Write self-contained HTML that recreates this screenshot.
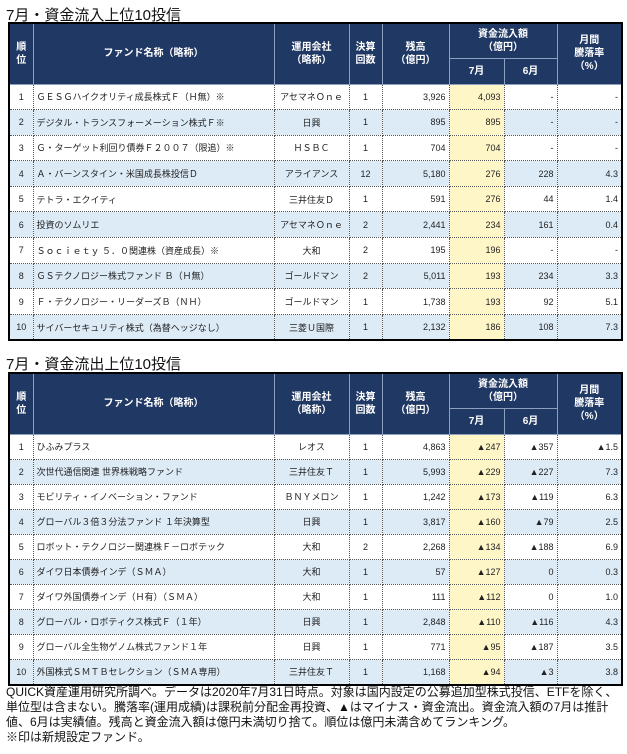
<!DOCTYPE html>
<html><head><meta charset="utf-8">
<style>
body{margin:0;background:#fff;width:627px;height:754px;overflow:hidden;font-family:"Liberation Sans","Noto Sans CJK JP",sans-serif;}
.t{position:absolute;left:6px;font-size:15px;color:#111;}
table{position:absolute;left:8px;border-collapse:collapse;table-layout:fixed;width:613px;border:2px solid #000;font-size:9px;color:#222;}
th{background:#203864;color:#fff;font-weight:bold;font-size:10px;border:1px solid #8ea0c0;text-align:center;line-height:13px;padding:0;}
td{border:1px dotted #555;padding:0 3px;white-space:nowrap;overflow:hidden;height:24px;}
table.a td{height:24.6px;}
tr.b td{background:#ddebf7;}
td.c{text-align:center}
td.r{text-align:right}
td.y{background:#fff6c8 !important;text-align:right}
td.n{text-align:left;padding-left:3px}
.f{position:absolute;left:6px;top:685px;font-size:12px;line-height:15px;color:#111;width:620px;}
</style></head><body>
<div class="t" style="top:4px">7月・資金流入上位10投信</div>
<table class="a" style="top:22px">
<colgroup><col style="width:24px"><col style="width:241px"><col style="width:75px"><col style="width:33px"><col style="width:67px"><col style="width:55px"><col style="width:53px"><col style="width:65px"></colgroup>
<tr style="height:35px"><th rowspan="2">順<br>位</th><th rowspan="2">ファンド名称（略称）</th><th rowspan="2">運用会社<br>（略称）</th><th rowspan="2">決算<br>回数</th><th rowspan="2">残高<br>（億円）</th><th colspan="2">資金流入額<br>（億円）</th><th rowspan="2">月間<br>騰落率<br>（%）</th></tr>
<tr style="height:26px"><th>7月</th><th>6月</th></tr>
<tr><td class="c">1</td><td class="n">ＧＥＳＧハイクオリティ成長株式Ｆ（Ｈ無）※</td><td class="c">アセマネＯｎｅ</td><td class="c">1</td><td class="r">3,926</td><td class="y">4,093</td><td class="r">-</td><td class="r">-</td></tr>
<tr class="b"><td class="c">2</td><td class="n">デジタル・トランスフォーメーション株式Ｆ※</td><td class="c">日興</td><td class="c">1</td><td class="r">895</td><td class="y">895</td><td class="r">-</td><td class="r">-</td></tr>
<tr><td class="c">3</td><td class="n">Ｇ・ターゲット利回り債券Ｆ２００７（限追）※</td><td class="c">ＨＳＢＣ</td><td class="c">1</td><td class="r">704</td><td class="y">704</td><td class="r">-</td><td class="r">-</td></tr>
<tr class="b"><td class="c">4</td><td class="n">Ａ・バーンスタイン・米国成長株投信Ｄ</td><td class="c">アライアンス</td><td class="c">12</td><td class="r">5,180</td><td class="y">276</td><td class="r">228</td><td class="r">4.3</td></tr>
<tr><td class="c">5</td><td class="n">テトラ・エクイティ</td><td class="c">三井住友Ｄ</td><td class="c">1</td><td class="r">591</td><td class="y">276</td><td class="r">44</td><td class="r">1.4</td></tr>
<tr class="b"><td class="c">6</td><td class="n">投資のソムリエ</td><td class="c">アセマネＯｎｅ</td><td class="c">2</td><td class="r">2,441</td><td class="y">234</td><td class="r">161</td><td class="r">0.4</td></tr>
<tr><td class="c">7</td><td class="n">Ｓｏｃｉｅｔｙ ５．０関連株（資産成長）※</td><td class="c">大和</td><td class="c">2</td><td class="r">195</td><td class="y">196</td><td class="r">-</td><td class="r">-</td></tr>
<tr class="b"><td class="c">8</td><td class="n">ＧＳテクノロジー株式ファンド Ｂ（Ｈ無）</td><td class="c">ゴールドマン</td><td class="c">2</td><td class="r">5,011</td><td class="y">193</td><td class="r">234</td><td class="r">3.3</td></tr>
<tr><td class="c">9</td><td class="n">Ｆ・テクノロジー・リーダーズＢ（ＮＨ）</td><td class="c">ゴールドマン</td><td class="c">1</td><td class="r">1,738</td><td class="y">193</td><td class="r">92</td><td class="r">5.1</td></tr>
<tr class="b"><td class="c">10</td><td class="n">サイバーセキュリティ株式（為替ヘッジなし）</td><td class="c">三菱Ｕ国際</td><td class="c">1</td><td class="r">2,132</td><td class="y">186</td><td class="r">108</td><td class="r">7.3</td></tr>
</table>
<div class="t" style="top:353px">7月・資金流出上位10投信</div>
<table style="top:372px">
<colgroup><col style="width:24px"><col style="width:241px"><col style="width:75px"><col style="width:33px"><col style="width:67px"><col style="width:55px"><col style="width:53px"><col style="width:65px"></colgroup>
<tr style="height:35px"><th rowspan="2">順<br>位</th><th rowspan="2">ファンド名称（略称）</th><th rowspan="2">運用会社<br>（略称）</th><th rowspan="2">決算<br>回数</th><th rowspan="2">残高<br>（億円）</th><th colspan="2">資金流入額<br>（億円）</th><th rowspan="2">月間<br>騰落率<br>（%）</th></tr>
<tr style="height:26px"><th>7月</th><th>6月</th></tr>
<tr><td class="c">1</td><td class="n">ひふみプラス</td><td class="c">レオス</td><td class="c">1</td><td class="r">4,863</td><td class="y">▲247</td><td class="r">▲357</td><td class="r">▲1.5</td></tr>
<tr class="b"><td class="c">2</td><td class="n">次世代通信関連 世界株戦略ファンド</td><td class="c">三井住友Ｔ</td><td class="c">1</td><td class="r">5,993</td><td class="y">▲229</td><td class="r">▲227</td><td class="r">7.3</td></tr>
<tr><td class="c">3</td><td class="n">モビリティ・イノベーション・ファンド</td><td class="c">ＢＮＹメロン</td><td class="c">1</td><td class="r">1,242</td><td class="y">▲173</td><td class="r">▲119</td><td class="r">6.3</td></tr>
<tr class="b"><td class="c">4</td><td class="n">グローバル３倍３分法ファンド １年決算型</td><td class="c">日興</td><td class="c">1</td><td class="r">3,817</td><td class="y">▲160</td><td class="r">▲79</td><td class="r">2.5</td></tr>
<tr><td class="c">5</td><td class="n">ロボット・テクノロジー関連株Ｆ－ロボテック</td><td class="c">大和</td><td class="c">2</td><td class="r">2,268</td><td class="y">▲134</td><td class="r">▲188</td><td class="r">6.9</td></tr>
<tr class="b"><td class="c">6</td><td class="n">ダイワ日本債券インデ（ＳＭＡ）</td><td class="c">大和</td><td class="c">1</td><td class="r">57</td><td class="y">▲127</td><td class="r">0</td><td class="r">0.3</td></tr>
<tr><td class="c">7</td><td class="n">ダイワ外国債券インデ（Ｈ有）（ＳＭＡ）</td><td class="c">大和</td><td class="c">1</td><td class="r">111</td><td class="y">▲112</td><td class="r">0</td><td class="r">1.0</td></tr>
<tr class="b"><td class="c">8</td><td class="n">グローバル・ロボティクス株式Ｆ（１年）</td><td class="c">日興</td><td class="c">1</td><td class="r">2,848</td><td class="y">▲110</td><td class="r">▲116</td><td class="r">4.3</td></tr>
<tr><td class="c">9</td><td class="n">グローバル全生物ゲノム株式ファンド１年</td><td class="c">日興</td><td class="c">1</td><td class="r">771</td><td class="y">▲95</td><td class="r">▲187</td><td class="r">3.5</td></tr>
<tr class="b"><td class="c">10</td><td class="n">外国株式ＳＭＴＢセレクション（ＳＭＡ専用）</td><td class="c">三井住友Ｔ</td><td class="c">1</td><td class="r">1,168</td><td class="y">▲94</td><td class="r">▲3</td><td class="r">3.8</td></tr>
</table>
<div class="f">QUICK資産運用研究所調べ。データは2020年7月31日時点。対象は国内設定の公募追加型株式投信、ETFを除く、単位型は含まない。騰落率(運用成績)は課税前分配金再投資、▲はマイナス・資金流出。資金流入額の7月は推計値、6月は実績値。残高と資金流入額は億円未満切り捨て。順位は億円未満含めてランキング。<br>※印は新規設定ファンド。</div>
</body></html>
